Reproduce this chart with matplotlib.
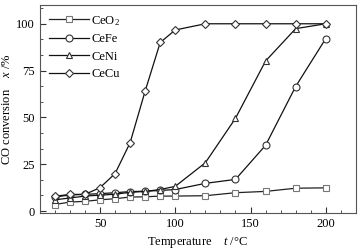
import matplotlib
matplotlib.use("Agg")
import matplotlib.pyplot as plt
from matplotlib.ticker import MultipleLocator, AutoMinorLocator

plt.rcParams['font.family'] = ['Liberation Serif', 'DejaVu Serif']
plt.rcParams['mathtext.fontset'] = 'custom'
plt.rcParams['mathtext.rm'] = 'Liberation Serif'
plt.rcParams['mathtext.it'] = 'Liberation Serif:italic'

temps = [20, 30, 40, 50, 60, 70, 80, 90, 100, 120, 140, 160, 180, 200]
ceo2 = [3.5, 4.8, 5.2, 6.0, 6.6, 7.5, 7.6, 8.0, 8.0, 8.2, 9.8, 10.5, 12.2, 12.4]
cefe = [7.5, 8.6, 8.9, 9.3, 9.8, 10.4, 10.6, 11.0, 11.5, 14.8, 16.9, 35.1, 66.5, 92.1]
ceni = [6.0, 7.0, 8.0, 8.5, 9.0, 10.0, 10.5, 11.5, 13.2, 25.8, 49.5, 80.1, 97.4, 100.0]
cecu = [7.9, 8.9, 8.9, 12.5, 20.0, 36.5, 64.1, 90.0, 96.7, 100.0, 100.0, 100.0, 100.0, 100.0]

fig = plt.figure(figsize=(3.62, 2.52), dpi=100)
ax = fig.add_axes([0.110, 0.155, 0.873, 0.825])

ms = 5
ax.plot(temps, ceo2, color='#222222', lw=0.9, marker='s', ms=ms, mfc='white', mec='#777777', mew=0.8, label='CeO$_2$')
ax.plot(temps, cefe, color='#111111', lw=0.9, marker='o', ms=ms, mfc='white', mec='#333333', mew=0.8, label='CeFe')
ax.plot(temps, ceni, color='#111111', lw=0.9, marker='^', ms=ms, mfc='white', mec='#333333', mew=0.8, label='CeNi')
ax.plot(temps, cecu, color='#111111', lw=0.9, marker='D', ms=4.2, mfc='white', mec='#333333', mew=0.8, label='CeCu')

ax.set_xlim(10, 220)
ax.set_ylim(-1, 110)
ax.xaxis.set_major_locator(MultipleLocator(50))
ax.xaxis.set_minor_locator(MultipleLocator(10))
ax.yaxis.set_major_locator(MultipleLocator(25))
ax.yaxis.set_minor_locator(AutoMinorLocator(3))
ax.tick_params(which='both', direction='in', labelsize=9, color='#333333')
ax.tick_params(which='major', length=4)
ax.tick_params(which='minor', length=2.5)
for s in ax.spines.values():
    s.set_color('#555555')
    s.set_linewidth(0.8)

ax.set_xlabel('Temperature    $t$ /°C', fontsize=9, labelpad=4)
ax.set_ylabel('CO conversion    $x$ /%', fontsize=9, labelpad=2)

ax.legend(loc='upper left', frameon=False, fontsize=9, handlelength=3.2,
          handletextpad=0.2, labelspacing=0.45, borderaxespad=0.3)

fig.savefig('out.png', dpi=100)
